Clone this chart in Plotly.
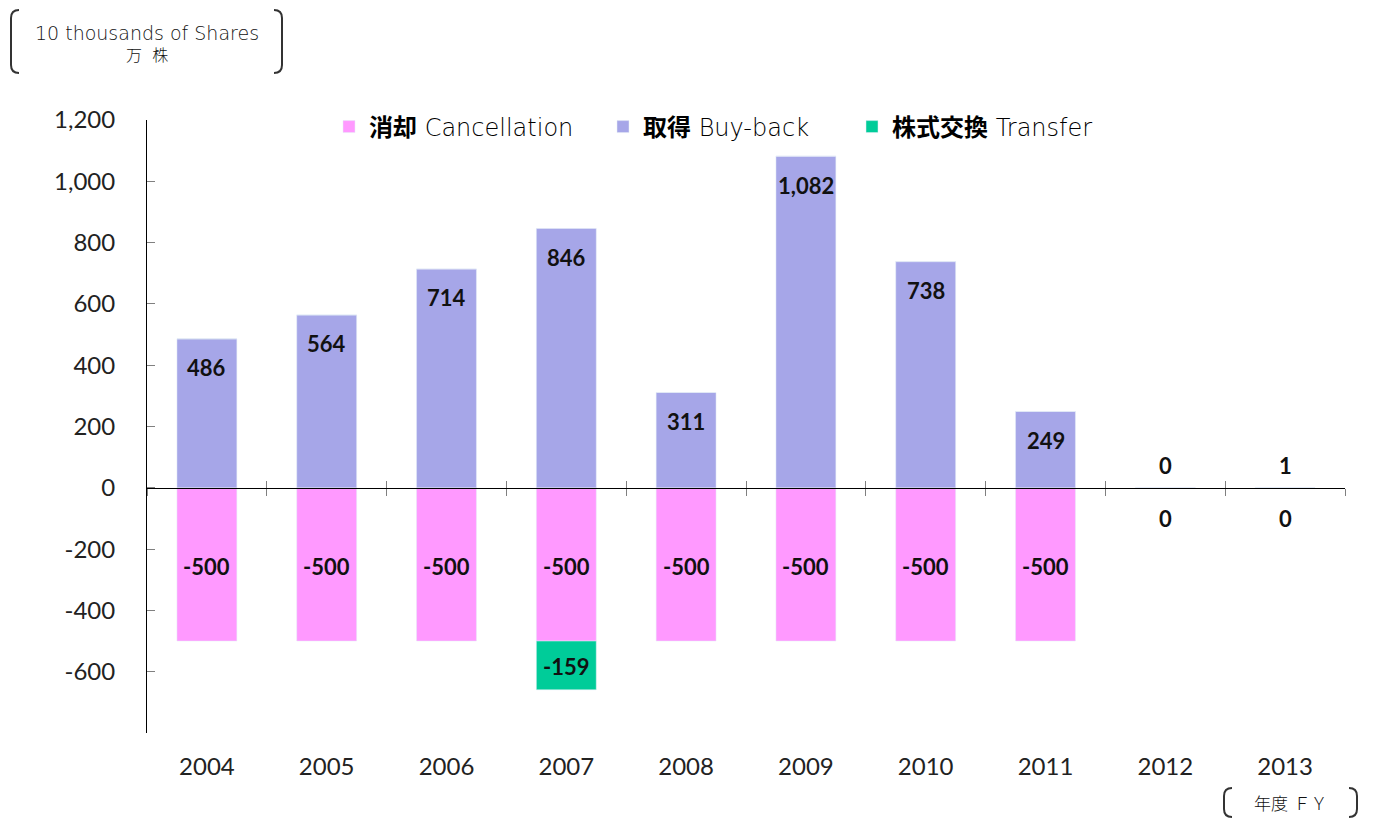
import plotly.graph_objects as go

years = ["2004", "2005", "2006", "2007", "2008", "2009", "2010", "2011", "2012", "2013"]
cancellation = [-500, -500, -500, -500, -500, -500, -500, -500, 0, 0]
buyback = [486, 564, 714, 846, 311, 1082, 738, 249, 0, 1]
transfer = [0, 0, 0, -159, 0, 0, 0, 0, 0, 0]
ytick_vals = [-800, -600, -400, -200, 0, 200, 400, 600, 800, 1000, 1200]
ytick_text = ["", "-600", "-400", "-200", "0", "200", "400", "600", "800", "1,000", "1,200"]

C_CANCEL = "#FF99FF"
C_BUY = "#A6A6E8"
C_TRANS = "#00CC99"

OFF = 8  # page body margin
SW, SH = 1373, 818
W, H = SW - OFF, SH - OFF
PL, PR, PT, PB = 147, 1345, 120, 733  # plot area in screen pixels
ML, MR, MT, MB = PL - OFF, SW - PR, PT - OFF, SH - PB
PW, PH = PR - PL, PB - PT

def px(x):
    return (x - PL) / PW

def py(y):
    return (PB - y) / PH

TICK_FONT = dict(family="Lato", size=24, color="#222222")
LBL_FONT = dict(family="Lato", size=22, color="#111111", weight="bold")
LEG_FONT = dict(family="DejaVu Sans, Noto Sans CJK JP", size=24, color="#000000", weight=200)
THIN = dict(family="DejaVu Sans, Noto Sans CJK JP", color="#111111", weight=200)

fig = go.Figure()
fig.add_trace(go.Bar(x=years, y=cancellation, name="<b>消却</b> Cancellation", marker_color=C_CANCEL,
                     width=0.5, legend="legend"))
fig.add_trace(go.Bar(x=years, y=buyback, name="<b>取得</b> Buy-back", marker_color=C_BUY,
                     width=0.5, legend="legend2"))
fig.add_trace(go.Bar(x=years, y=transfer, name="<b>株式交換</b> Transfer", marker_color=C_TRANS,
                     width=0.5, legend="legend3"))

ann = []
for i, yr in enumerate(years):
    v = buyback[i]
    if v > 50:
        ann.append(dict(x=i, y=v, yshift=-29, text=f"{v:,}"))
    else:
        ann.append(dict(x=i, y=0, yshift=22, text=f"{v:,}"))
    c = cancellation[i]
    if c != 0:
        ann.append(dict(x=i, y=c / 2, yshift=-2, text=f"{c:,}"))
    else:
        ann.append(dict(x=i, y=0, yshift=-31, text="0"))
    t = transfer[i]
    if t != 0:
        ann.append(dict(x=i, y=c + t / 2, yshift=-1, text=f"{t:,}"))
for a in ann:
    a.update(xref="x", yref="y", showarrow=False, font=LBL_FONT, xanchor="center", yanchor="middle")

ann.append(dict(xref="paper", yref="paper", x=px(147), y=py(33), text="10 thousands of Shares",
                xanchor="center", yanchor="middle", showarrow=False, font=dict(THIN, size=19)))
ann.append(dict(xref="paper", yref="paper", x=px(147), y=py(55), text="万  株",
                xanchor="center", yanchor="middle", showarrow=False, font=dict(THIN, size=16)))
ann.append(dict(xref="paper", yref="paper", x=px(1290), y=py(804), text="年度 ＦＹ",
                xanchor="center", yanchor="middle", showarrow=False, font=dict(THIN, size=17)))

def lbracket(x, y0, y1):
    return (f"M {px(x+8)},{py(y0)} Q {px(x)},{py(y0)} {px(x)},{py(y0+8)} "
            f"L {px(x)},{py(y1-8)} Q {px(x)},{py(y1)} {px(x+8)},{py(y1)}")

def rbracket(x, y0, y1):
    return (f"M {px(x-8)},{py(y0)} Q {px(x)},{py(y0)} {px(x)},{py(y0+8)} "
            f"L {px(x)},{py(y1-8)} Q {px(x)},{py(y1)} {px(x-8)},{py(y1)}")

shapes = []
for p in [lbracket(11, 10, 73), rbracket(282, 10, 73), lbracket(1224, 788, 817), rbracket(1357, 788, 817)]:
    shapes.append(dict(type="path", xref="paper", yref="paper", path=p,
                       line=dict(color="#333333", width=2)))

fig.update_layout(
    width=W, height=H,
    margin=dict(l=ML, r=MR, t=MT, b=MB, autoexpand=False),
    paper_bgcolor="white", plot_bgcolor="white",
    barmode="relative",
    annotations=ann, shapes=shapes,
    xaxis=dict(type="category", range=[-0.5, 9.5], showline=False, showgrid=False, zeroline=False,
               ticks="", tickfont=TICK_FONT, ticklabelstandoff=17),
    xaxis2=dict(overlaying="x", anchor="free", position=0.4, range=[-0.5, 9.5], showline=True,
                linecolor="black", linewidth=1, showgrid=False, zeroline=False,
                tickvals=[i - 0.5 for i in range(11)], ticktext=[""] * 11,
                ticks="outside", ticklen=7, tickcolor="#808080", showticklabels=False),
    xaxis3=dict(overlaying="x", anchor="free", position=0.4, range=[-0.5, 9.5], showline=False,
                showgrid=False, zeroline=False,
                tickvals=[i - 0.5 for i in range(11)], ticktext=[""] * 11,
                ticks="inside", ticklen=7, tickcolor="#808080", showticklabels=False),
    yaxis=dict(range=[-800, 1200], tickvals=ytick_vals, ticktext=ytick_text, showgrid=False,
               zeroline=False, showline=True, linecolor="black", linewidth=1,
               ticks="inside", ticklen=8, tickcolor="#808080", tickfont=TICK_FONT,
               ticklabelstandoff=26),
    legend=dict(orientation="h", x=px(329), y=py(127), xanchor="left", yanchor="middle",
                font=LEG_FONT, bgcolor="rgba(0,0,0,0)"),
    legend2=dict(orientation="h", x=px(603), y=py(127), xanchor="left", yanchor="middle",
                 font=LEG_FONT, bgcolor="rgba(0,0,0,0)"),
    legend3=dict(orientation="h", x=px(852), y=py(127), xanchor="left", yanchor="middle",
                 font=LEG_FONT, bgcolor="rgba(0,0,0,0)"),
    showlegend=True,
)
fig.add_trace(go.Scatter(x=[None], y=[None], xaxis="x2", showlegend=False, hoverinfo="skip"))
fig.add_trace(go.Scatter(x=[None], y=[None], xaxis="x3", showlegend=False, hoverinfo="skip"))

fig.write_html("out.html")
